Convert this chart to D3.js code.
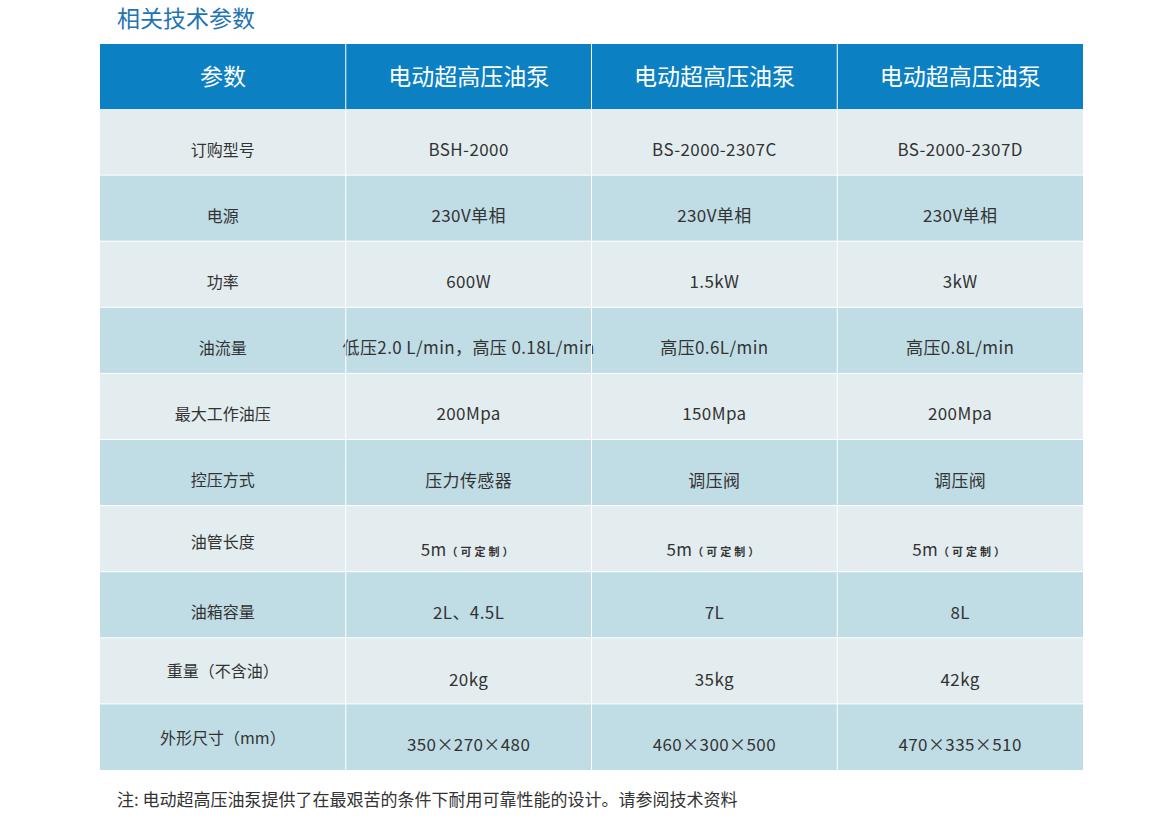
<!DOCTYPE html>
<html><head><meta charset="utf-8">
<script src="https://cdn.jsdelivr.net/npm/d3@7"></script>
<style>body{margin:0;background:#fff}</style></head>
<body><svg id="c" width="1160" height="828"></svg>
<script>
const title = "相关技术参数";
const headers = ["参数","电动超高压油泵","电动超高压油泵","电动超高压油泵"];
const params = ["订购型号","电源","功率","油流量","最大工作油压","控压方式","油管长度","油箱容量","重量（不含油）","外形尺寸（mm）"];
const colA = ["BSH-2000","230V单相","600W","低压2.0 L/min，高压 0.18L/min","200Mpa","压力传感器","5m|（可定制）","2L、4.5L","20kg","350×270×480"];
const colB = ["BS-2000-2307C","230V单相","1.5kW","高压0.6L/min","150Mpa","调压阀","5m|（可定制）","7L","35kg","460×300×500"];
const colC = ["BS-2000-2307D","230V单相","3kW","高压0.8L/min","200Mpa","调压阀","5m|（可定制）","8L","42kg","470×335×510"];
const note = "注: 电动超高压油泵提供了在最艰苦的条件下耐用可靠性能的设计。请参阅技术资料";

const svg = d3.select("#c");
const font = "'Noto Sans CJK SC','Noto Sans',sans-serif";
const x = d3.scaleBand().domain(d3.range(4)).range([100,1083]);
const y = d3.scaleBand().domain(d3.range(10)).range([109,770]);

svg.append("text").attr("x",117).attr("y",27).attr("font-family",font).attr("font-size",23)
  .attr("fill","#1f74b3").text(title);

svg.append("rect").attr("x",100).attr("y",44).attr("width",983).attr("height",65).attr("fill","#0b80c3");
headers.forEach((h,i)=>{
  svg.append("text").attr("x",x(i)+x.bandwidth()/2).attr("y",77).attr("dy","0.35em")
    .attr("text-anchor","middle").attr("font-family",font).attr("font-size",23).attr("fill","#fff").text(h);
});
const cols=[params,colA,colB,colC];
const special = {6:[4,11],8:[1,9],9:[1,8]};
d3.range(10).forEach(r=>{
  svg.append("rect").attr("x",100).attr("y",y(r)).attr("width",983).attr("height",y.bandwidth())
    .attr("fill", r%2===0?"#e3edf0":"#c0dde6");
  cols.forEach((col,c)=>{
    const v=col[r];
    const off = special[r] ? special[r][c===0?0:1] : 8;
    const t=svg.append("text").attr("x",x(c)+x.bandwidth()/2).attr("y",y(r)+y.bandwidth()/2+off).attr("dy","0.35em")
      .attr("text-anchor","middle").attr("font-family",font).attr("font-size",c===0?16:17)
      .attr("letter-spacing",c===0?0:0.4).attr("fill","#333");
    if(v.includes("|")){
      const [a,b]=v.split("|");
      t.append("tspan").text(a);
      t.append("tspan").attr("font-size",11).attr("font-weight","bold").attr("letter-spacing",3).text(b);
    } else t.text(v);
  });
});
d3.range(1,10).forEach(r=>svg.append("line").attr("x1",100).attr("x2",1083).attr("y1",y(r)).attr("y2",y(r)).attr("stroke","#fff").attr("stroke-width",1));
d3.range(1,4).forEach(c=>svg.append("line").attr("x1",x(c)).attr("x2",x(c)).attr("y1",44).attr("y2",770).attr("stroke","#fff").attr("stroke-width",1));

svg.append("text").attr("x",117).attr("y",806).attr("font-family",font).attr("font-size",17).attr("fill","#333").text(note);
</script></body></html>
